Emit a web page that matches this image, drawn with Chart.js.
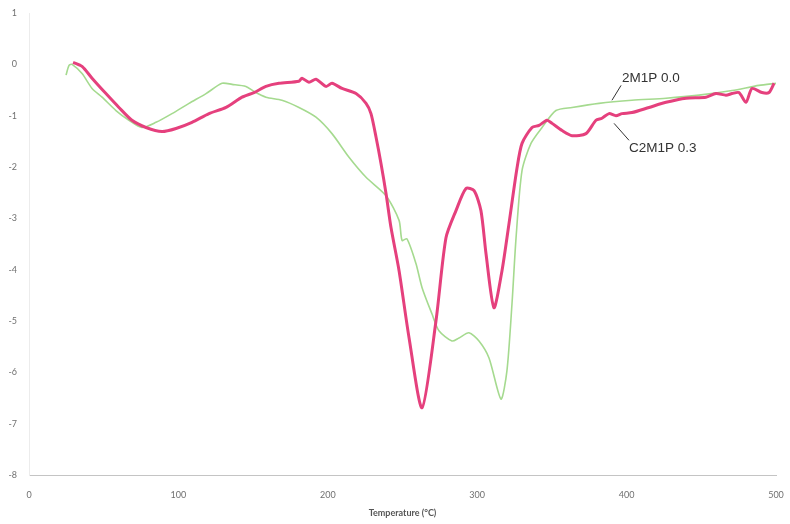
<!DOCTYPE html>
<html>
<head>
<meta charset="utf-8">
<script src="https://cdn.jsdelivr.net/npm/chart.js@4.4.1/dist/chart.umd.min.js"></script>
<style>
  html, body { margin: 0; padding: 0; background: #fff; }
  canvas { display: block; }
</style>
</head>
<body>
<canvas id="tgChart" width="790" height="524"></canvas>
<script>
// C2M1P 0.3 (pink, thick)
const pinkTemp = [29.5, 35.5, 42.2, 51.5, 60.2, 68.9, 78.3, 89.0, 98.4, 109.1, 120.5, 131.9, 142.6, 150.6,
  158.6, 167.3, 180.7, 182.7, 187.4, 192.1, 198.8, 202.8, 209.5, 218.9, 225.6, 228.9, 232.3, 235.6,
  239.0, 242.3, 247.7, 254.4, 263.1, 272.4, 279.1, 285.8, 292.5, 297.9, 302.5, 305.9, 311.2, 316.6,
  321.3, 326.6, 330.0, 336.7, 341.4, 346.7, 350.1, 356.8, 363.5, 372.8, 379.5, 383.5, 388.2, 392.9,
  396.9, 403.6, 415.0, 426.4, 439.8, 453.1, 459.8, 466.5, 470.6, 475.2, 479.9, 483.9, 490.6, 495.3, 498.7];
const pinkMass = [0.04, -0.04, -0.27, -0.57, -0.84, -1.09, -1.23, -1.31, -1.25, -1.13, -0.96, -0.84, -0.64, -0.55,
  -0.43, -0.37, -0.33, -0.27, -0.35, -0.29, -0.43, -0.37, -0.47, -0.57, -0.76, -0.96, -1.42, -1.93,
  -2.52, -3.18, -4.02, -5.33, -6.69, -5.00, -3.38, -2.85, -2.42, -2.46, -2.85, -3.69, -4.74, -4.02,
  -3.10, -2.03, -1.54, -1.23, -1.19, -1.09, -1.15, -1.29, -1.39, -1.35, -1.09, -1.05, -0.96, -1.00,
  -0.96, -0.94, -0.84, -0.74, -0.66, -0.64, -0.57, -0.60, -0.57, -0.55, -0.74, -0.47, -0.55, -0.55, -0.37];

// 2M1P 0.0 (green, thin)
const greenTemp = [24.8, 26.8, 28.8, 35.5, 42.2, 48.9, 58.2, 66.9, 75.6, 85.0, 95.7, 107.1, 118.5, 129.2,
  135.9, 145.2, 150.6, 158.6, 169.3, 180.7, 192.1, 202.8, 214.2, 225.6, 239.0, 247.7, 249.7, 253.0,
  259.0, 263.1, 269.7, 274.4, 283.1, 287.8, 294.5, 301.2, 307.9, 315.9, 319.9, 323.3, 326.0, 330.0,
  336.0, 343.4, 352.7, 363.5, 381.5, 403.6, 426.4, 448.5, 470.6, 488.6, 500.0];
const greenMass = [-0.21, -0.02, 0.00, -0.18, -0.47, -0.64, -0.90, -1.09, -1.23, -1.13, -0.96, -0.76, -0.57, -0.37,
  -0.39, -0.43, -0.53, -0.64, -0.70, -0.84, -1.03, -1.35, -1.81, -2.20, -2.56, -3.04, -3.43, -3.40,
  -3.88, -4.35, -4.86, -5.19, -5.39, -5.33, -5.23, -5.39, -5.72, -6.52, -5.97, -4.66, -3.38, -2.07,
  -1.54, -1.23, -0.90, -0.84, -0.76, -0.70, -0.66, -0.60, -0.51, -0.41, -0.37];

const xTicks = [0, 100, 200, 300, 400, 500];
const yTicks = [1, 0, -1, -2, -3, -4, -5, -6, -7, -8];

const seriesNames = ["C2M1P 0.3", "2M1P 0.0"];

// label text, anchor on curve, end of leader line, text start (data units)
const callouts = [
  { text: "2M1P 0.0",  from: [390.2, -0.70], to: [396.3, -0.41], at: [396.9, -0.27] },
  { text: "C2M1P 0.3", from: [391.6, -1.15], to: [401.6, -1.48], at: [401.6, -1.64] }
];

const zip = (xs, ys) => xs.map((x, i) => ({ x: x, y: ys[i] }));

const calloutPlugin = {
  id: "callouts",
  afterDatasetsDraw(chart) {
    const ctx = chart.ctx;
    const xs = chart.scales.x;
    const ys = chart.scales.y;
    ctx.save();
    callouts.forEach(c => {
      ctx.beginPath();
      ctx.moveTo(xs.getPixelForValue(c.from[0]), ys.getPixelForValue(c.from[1]));
      ctx.lineTo(xs.getPixelForValue(c.to[0]), ys.getPixelForValue(c.to[1]));
      ctx.lineWidth = 1;
      ctx.strokeStyle = "#333";
      ctx.stroke();
      ctx.font = "13.5px 'Liberation Sans', Arial, sans-serif";
      ctx.fillStyle = "#333";
      ctx.textAlign = "left";
      ctx.textBaseline = "middle";
      ctx.fillText(c.text, xs.getPixelForValue(c.at[0]), ys.getPixelForValue(c.at[1]));
    });
    ctx.restore();
  }
};

const tickFont = { family: "Lato, 'Open Sans', sans-serif", size: 9 };

new Chart(document.getElementById("tgChart").getContext("2d"), {
  type: "line",
  data: {
    datasets: [{
      label: seriesNames[0],
      data: zip(pinkTemp, pinkMass),
      borderColor: "#e5407d",
      borderWidth: 3,
      pointRadius: 0,
      tension: 0.25,
      fill: false
    }, {
      label: seriesNames[1],
      data: zip(greenTemp, greenMass),
      borderColor: "#a5da8f",
      borderWidth: 1.6,
      pointRadius: 0,
      tension: 0.25,
      fill: false
    }]
  },
  options: {
    responsive: false,
    animation: false,
    layout: { padding: { left: 0, right: 14, top: 13, bottom: 0 } },
    plugins: {
      legend: { display: false },
      tooltip: { enabled: false }
    },
    scales: {
      x: {
        type: "linear",
        min: 0,
        max: 500,
        afterBuildTicks: s => { s.ticks = xTicks.map(v => ({ value: v })); },
        afterFit: s => { s.height = 49; s.paddingLeft = 0; s.paddingRight = 0; },
        ticks: { color: "#707070", font: tickFont, padding: 15, maxRotation: 0 },
        grid: { display: false, drawTicks: false },
        border: { display: true, color: "#c4c4c4", width: 1, dash: [2, 4] },
        title: {
          display: true,
          text: "Temperature (°C)",
          color: "#555",
          font: { family: "Lato, 'Open Sans', sans-serif", size: 9, weight: "bold" },
          padding: { top: 4, bottom: 6 }
        }
      },
      y: {
        type: "linear",
        min: -8,
        max: 1,
        afterBuildTicks: s => { s.ticks = yTicks.map(v => ({ value: v })); },
        afterFit: s => { s.width = 29; s.paddingTop = 0; s.paddingBottom = 0; },
        ticks: { color: "#707070", font: tickFont, padding: 12 },
        grid: { display: false, drawTicks: false },
        border: { display: true, color: "#ececec", width: 1 }
      }
    }
  },
  plugins: [calloutPlugin]
});
</script>
</body>
</html>
